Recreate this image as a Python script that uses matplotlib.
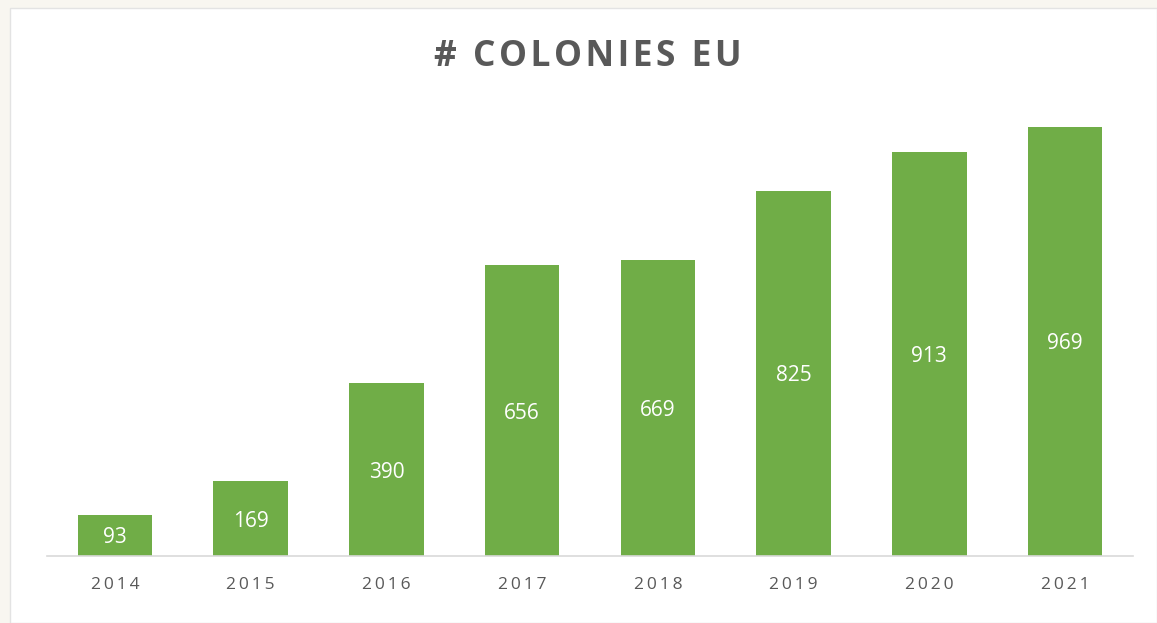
import matplotlib.pyplot as plt
import matplotlib.patches as patches

# Data
years = ['2014', '2015', '2016', '2017', '2018', '2019', '2020', '2021']
colonies = [93, 169, 390, 656, 669, 825, 913, 969]

bar_color = '#70AD47'
text_gray = '#595959'

fig = plt.figure(figsize=(11.57, 6.23), dpi=100)
fig.patch.set_facecolor('#F8F6F0')

# white chart panel
panel = patches.Rectangle((10 / 1157, 0), 1 - 10 / 1157, 1 - 8 / 623,
                          transform=fig.transFigure, facecolor='white',
                          edgecolor='#E3E3E3', linewidth=1, zorder=-5)
fig.patches.append(panel)

ax = fig.add_axes([47 / 1157, 67 / 623, 1086 / 1157, 443 / 623])
ax.set_facecolor('none')

x = range(len(years))
bars = ax.bar(x, colonies, width=0.55, color=bar_color)

for xi, v in zip(x, colonies):
    ax.text(xi, v / 2, str(v), ha='center', va='center_baseline', color='white',
            fontsize=15, family='Open Sans')

ax.set_xlim(-0.5, len(years) - 0.5)
ax.set_ylim(0, 1000)
ax.set_xticks(list(x))
ax.set_xticklabels(['\u2009'.join(y) for y in years], family='Open Sans',
                   fontsize=12.5, color=text_gray)
ax.tick_params(axis='x', length=0, pad=15)
ax.set_yticks([])

for side in ['top', 'right', 'left']:
    ax.spines[side].set_visible(False)
ax.spines['bottom'].set_color('#D9D9D9')
ax.spines['bottom'].set_linewidth(1.2)

# letter-spaced title
fig.text(588 / 1157, 1 - 57 / 623, '\u200a'.join('# COLONIES EU'),
         ha='center', va='center', fontsize=25.5, fontweight='bold',
         color=text_gray, family='Open Sans')

fig.savefig('out.png', dpi=100, facecolor=fig.get_facecolor())
